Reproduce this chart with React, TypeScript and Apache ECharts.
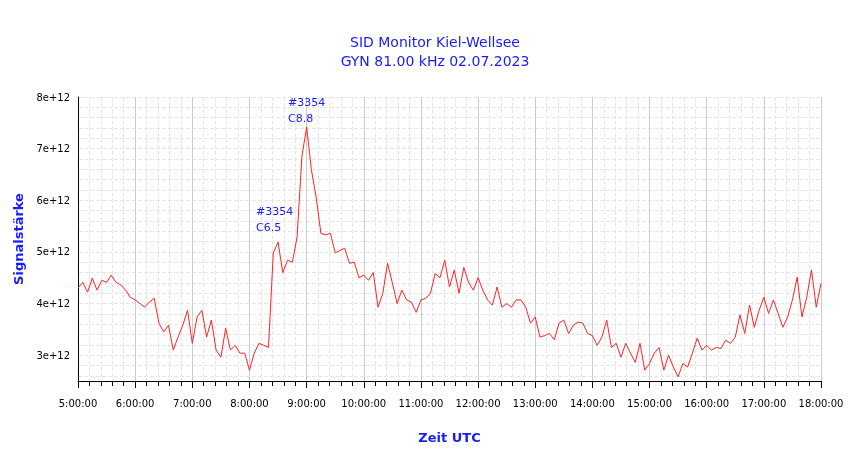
import { useEffect, useRef } from "react"
import * as echarts from "echarts"

// Signalstärke in Einheiten von 1e12, alle 5 Minuten ab 5:00 UTC
const startHour = 5
const stepMinutes = 5
const signal = [
  4.3, 4.41, 4.22, 4.49, 4.26, 4.45, 4.41, 4.55, 4.41, 4.36, 4.26, 4.12,
  4.07, 4.0, 3.93, 4.03, 4.1, 3.62, 3.45, 3.58, 3.1, 3.35, 3.58, 3.87,
  3.23, 3.74, 3.87, 3.35, 3.68, 3.1, 2.96, 3.52, 3.1, 3.19, 3.04, 3.04,
  2.71, 3.04, 3.23, 3.19, 3.15, 4.98, 5.19, 4.6, 4.84, 4.8, 5.29, 6.84,
  7.42, 6.59, 6.06, 5.36, 5.33, 5.36, 4.98, 5.03, 5.07, 4.78, 4.8, 4.5,
  4.55, 4.45, 4.6, 3.93, 4.2, 4.78, 4.4, 4.0, 4.26, 4.07, 4.03, 3.83,
  4.07, 4.1, 4.2, 4.58, 4.5, 4.84, 4.32, 4.65, 4.2, 4.7, 4.41, 4.26,
  4.5, 4.26, 4.07, 3.97, 4.32, 3.93, 4.0, 3.93, 4.07, 4.07, 3.93, 3.62,
  3.74, 3.35, 3.38, 3.42, 3.3, 3.62, 3.68, 3.42, 3.58, 3.64, 3.62, 3.42,
  3.38, 3.19, 3.35, 3.68, 3.15, 3.23, 2.96, 3.23, 3.04, 2.86, 3.23, 2.71,
  2.84, 3.04, 3.15, 2.71, 3.0, 2.77, 2.58, 2.84, 2.77, 3.04, 3.33, 3.1,
  3.19, 3.1, 3.15, 3.13, 3.29, 3.23, 3.35, 3.78, 3.42, 3.97, 3.54, 3.87,
  4.12, 3.81, 4.07, 3.81, 3.54, 3.74, 4.07, 4.51, 3.74, 4.12, 4.65, 3.93,
  4.39,
]
const flares = [
  { text: "#3354\nC6.5", x: 256, y: 203 },
  { text: "#3354\nC8.8", x: 288, y: 94 },
]

const blue = "#1a1aff"
const font = "DejaVu Sans"

export default function App() {
  const chartRef = useRef<HTMLDivElement>(null)

  useEffect(() => {
    if (!chartRef.current) return
    const chart = echarts.init(chartRef.current, null, { renderer: "svg" })
    const data = signal.map((v, i) => [startHour + (i * stepMinutes) / 60, v])
    const isInt = (v: number) => Math.abs(v - Math.round(v)) < 1e-6

    chart.setOption({
      animation: false,
      textStyle: { fontFamily: font },
      title: {
        text: "SID Monitor Kiel-Wellsee\nGYN 81.00 kHz 02.07.2023",
        left: 430,
        textAlign: "center",
        top: 27,
        textStyle: { color: blue, fontSize: 14, fontWeight: "normal", lineHeight: 19, fontFamily: font },
      },
      grid: { left: 78, right: 29, top: 97, bottom: 78 },
      xAxis: {
        type: "value",
        min: 5,
        max: 18,
        interval: 1,
        name: "Zeit UTC",
        nameLocation: "middle",
        nameGap: 50,
        nameTextStyle: { color: blue, fontWeight: "bold", fontSize: 13 },
        axisLine: { lineStyle: { color: "#000" } },
        axisTick: { length: 7, lineStyle: { color: "#000" } },
        minorTick: { show: true, splitNumber: 5, length: 5, lineStyle: { color: "#000" } },
        axisLabel: { color: "#000", fontSize: 10, margin: 17, formatter: (v: number) => `${v}:00:00` },
        splitLine: { show: true, lineStyle: { color: "#cccccc", width: 1 } },
        minorSplitLine: { show: true, lineStyle: { color: "#e6e6e6", type: "dashed" } },
      },
      yAxis: {
        type: "value",
        min: 2.5,
        max: 8,
        interval: 0.1,
        name: "Signalstärke",
        nameLocation: "middle",
        nameRotate: 90,
        nameGap: 50,
        nameTextStyle: { color: blue, fontWeight: "bold", fontSize: 13 },
        axisLine: { show: true, lineStyle: { color: "#000" } },
        axisTick: { show: false },
        axisLabel: {
          color: "#000",
          fontSize: 10,
          showMinLabel: false,
          formatter: (v: number) => (isInt(v) ? `${Math.round(v)}e+12` : ""),
        },
        splitLine: {
          show: true,
          lineStyle: { color: ["transparent", "#e6e6e6"], type: "dashed" },
        },
      },
      graphic: flares.map((f) => ({
        type: "text",
        x: f.x,
        y: f.y,
        z: 10,
        style: {
          text: f.text,
          fill: blue,
          fontSize: 11,
          lineHeight: 16,
          fontFamily: font,
          verticalAlign: "top",
          textVerticalAlign: "top",
        },
      })),
      series: [
        {
          type: "line",
          data,
          symbol: "none",
          lineStyle: { color: "#ff2222", width: 1 },
        },
      ],
    })

    return () => chart.dispose()
  }, [])

  return <div ref={chartRef} style={{ position: "fixed", left: 0, top: 0, width: 850, height: 459 }} />
}
